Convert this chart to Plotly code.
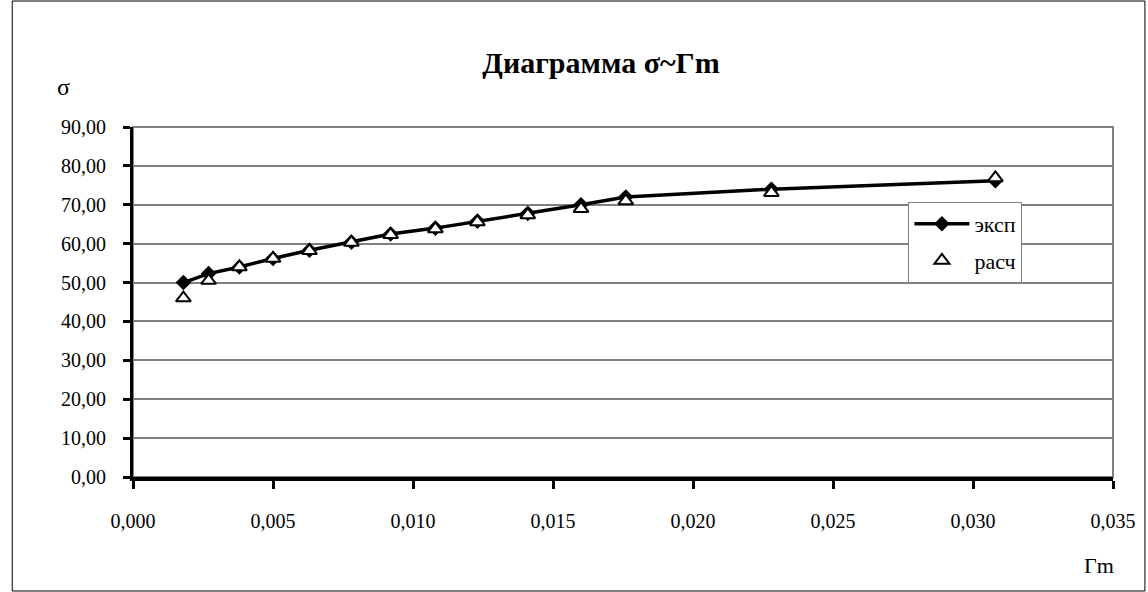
import plotly.graph_objects as go

# Experimental curve (эксп)
gm_exp = [0.0018, 0.0027, 0.0038, 0.0050, 0.0063, 0.0078, 0.0092,
          0.0108, 0.0123, 0.0141, 0.0160, 0.0176, 0.0228, 0.0308]
sigma_exp = [50.0, 52.3, 54.0, 56.2, 58.3, 60.4, 62.5,
             64.0, 65.8, 67.8, 70.0, 72.0, 74.0, 76.2]

# Calculated points (расч)
gm_calc = [0.0018, 0.0027, 0.0038, 0.0050, 0.0063, 0.0078, 0.0092,
           0.0108, 0.0123, 0.0141, 0.0160, 0.0176, 0.0228, 0.0308]
sigma_calc = [46.0, 50.5, 54.0, 56.2, 58.2, 60.3, 62.3,
              63.8, 65.6, 67.4, 69.0, 71.0, 73.1, 76.9]

x_ticks = [0.000, 0.005, 0.010, 0.015, 0.020, 0.025, 0.030, 0.035]
y_ticks = [0, 10, 20, 30, 40, 50, 60, 70, 80, 90]

FONT = "Liberation Serif"
W, H = 1148, 592
L, R, T, B = 133, 33, 127, 115
pw, ph = W - L - R, H - T - B


def px_x(p):
    return (p - L) / pw


def px_y(p):
    return (T + ph - p) / ph


fig = go.Figure()
fig.add_trace(go.Scatter(
    x=gm_exp, y=sigma_exp, name="эксп", mode="lines+markers",
    line=dict(color="black", width=3.5),
    marker=dict(symbol="diamond", size=12, color="black"),
    legendgroup="a",
))
fig.add_trace(go.Scatter(
    x=gm_calc, y=sigma_calc, name="расч", mode="markers",
    marker=dict(symbol="triangle-up", size=13, color="white",
                line=dict(color="black", width=2)),
    legendgroup="b",
))

# plot-area frame (grey, top and right visible)
fig.add_shape(type="rect", xref="paper", yref="paper", x0=0, x1=1, y0=0, y1=1,
              line=dict(color="#808080", width=2), layer="below")
# outer chart border
fig.add_shape(type="rect", xref="paper", yref="paper",
              x0=px_x(12), x1=px_x(W - 1), y0=px_y(H - 1), y1=px_y(1),
              line=dict(color="black", width=1))

fig.add_annotation(text="σ", xref="paper", yref="paper",
                   x=px_x(63), y=px_y(87), xanchor="center", yanchor="middle",
                   showarrow=False,
                   font=dict(family=FONT, size=24, color="black"))
fig.add_annotation(text="Гm", xref="paper", yref="paper",
                   x=px_x(1101), y=px_y(565), xanchor="center", yanchor="middle",
                   showarrow=False,
                   font=dict(family=FONT, size=22, color="black"))

fig.update_layout(
    width=W, height=H,
    margin=dict(l=L, r=R, t=T, b=B),
    paper_bgcolor="white", plot_bgcolor="white",
    separators=", ",
    title=dict(text="<b>Диаграмма σ~Гm</b>", x=601 / W, xanchor="center",
               y=1 - 62 / H, yanchor="middle",
               font=dict(family=FONT, size=30, color="black")),
    font=dict(family=FONT, size=20, color="black"),
    showlegend=True,
    legend=dict(x=px_x(910), y=px_y(202), xanchor="left", yanchor="top",
                bgcolor="white", bordercolor="#808080", borderwidth=1,
                font=dict(family=FONT, size=22, color="black"),
                itemwidth=55,
                tracegroupgap=5, traceorder="grouped"),
    xaxis=dict(range=[0, 0.035], tickvals=x_ticks, tickformat=".3f",
               showgrid=False, zeroline=False,
               showline=True, linecolor="black", linewidth=4,
               ticks="outside", ticklen=8, tickwidth=3, tickcolor="black",
               ticklabelstandoff=15,
               tickfont=dict(family=FONT, size=20, color="black")),
    yaxis=dict(range=[0, 90], tickvals=y_ticks, tickformat=".2f",
               showgrid=True, gridcolor="#808080", gridwidth=1.5,
               zeroline=False,
               showline=True, linecolor="black", linewidth=3,
               ticks="outside", ticklen=7, tickwidth=3, tickcolor="black",
               ticklabelstandoff=13,
               tickfont=dict(family=FONT, size=20, color="black")),
)

fig.write_html("out.html")
